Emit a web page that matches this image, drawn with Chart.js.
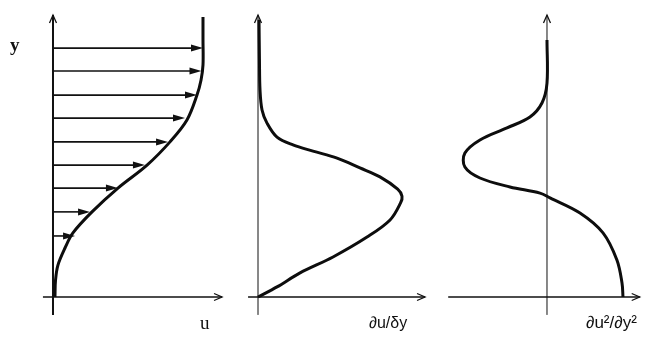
<!DOCTYPE html>
<html>
<head>
<meta charset="utf-8">
<script src="https://cdn.jsdelivr.net/npm/chart.js@4/dist/chart.umd.min.js"></script>
<style>
    html, body { margin: 0; padding: 0; background: #fff; }
    #wrap { position: relative; width: 648px; height: 337px; overflow: hidden; }
    #profileChart { position: absolute; left: 0; top: 0; }
    .lbl { position: absolute; color: #111; white-space: nowrap; }
    .serif { font-family: 'Liberation Serif', 'DejaVu Serif', serif; }
    .sans { font-family: 'Liberation Sans', 'DejaVu Sans', sans-serif; }
</style>
</head>
<body>
<div id="wrap">
    <canvas id="profileChart" width="648" height="337"></canvas>
    <span class="lbl serif" style="left:10px; top:34px; font-size:19px; font-weight:bold;">y</span>
    <span class="lbl serif" style="left:200px; top:312px; font-size:19px;">u</span>
    <span class="lbl sans" style="left:369px; top:314px; font-size:16px;">∂u/δy</span>
    <span class="lbl sans" style="left:586px; top:313px; font-size:17px;">∂u²/∂y²</span>
</div>
<script>
// wall-normal coordinate (0 = wall, 1 = top of the sketch)
const etaU = [0, 0.061, 0.114, 0.175, 0.229, 0.304, 0.389, 0.471, 0.554, 0.632, 0.721, 0.775, 0.829, 0.92, 1.0];
const uProfile = [0.013, 0.017, 0.033, 0.08, 0.133, 0.26, 0.433, 0.627, 0.78, 0.893, 0.96, 0.987, 1.0, 1.0, 1.0];

const etaD = [0, 0.036, 0.086, 0.143, 0.214, 0.275, 0.336, 0.36, 0.385, 0.429, 0.461, 0.496, 0.521, 0.543, 0.571, 0.621, 0.668, 0.739, 0.85, 0.99];
const dudy = [0, 0.132, 0.292, 0.521, 0.757, 0.917, 0.99, 1.0, 0.97, 0.847, 0.708, 0.549, 0.382, 0.243, 0.132, 0.0625, 0.028, 0.014, 0.01, 0.007];

const etaS = [0, 0.05, 0.132, 0.229, 0.30, 0.354, 0.371, 0.393, 0.425, 0.464, 0.514, 0.561, 0.604, 0.643, 0.693, 0.764, 0.918];
const d2udy2 = [1.0, 0.987, 0.92, 0.737, 0.434, 0.04, -0.092, -0.487, -0.882, -1.08, -1.08, -0.882, -0.526, -0.224, -0.066, 0, 0];

// velocity vectors drawn inside the u profile
const arrowEta = [0.218, 0.304, 0.389, 0.471, 0.554, 0.639, 0.721, 0.807, 0.889];
const arrowU = [0.147, 0.247, 0.433, 0.613, 0.767, 0.88, 0.96, 0.99, 1.0];

function toPoints(xs, ys) {
    return xs.map(function(x, i) { return { x: x, y: ys[i] }; });
}

// axes of the three panels, in each panel's own units
const panels = [
    { axis: 'xu', left: -0.067, right: 1.127, bottom: -0.064, top: 1.007, width: 2 },
    { axis: 'xd', left: -0.069, right: 1.16, bottom: -0.064, top: 1.007, width: 1 },
    { axis: 'xs', left: -1.30, right: 1.22, bottom: -0.064, top: 1.007, width: 1 }
];

function chevron(ctx, x, y, dx, dy) {
    // open arrowhead pointing along (dx, dy)
    const len = 8, half = 3.5;
    const px = -dy, py = dx;
    ctx.beginPath();
    ctx.moveTo(x - dx * len + px * half, y - dy * len + py * half);
    ctx.lineTo(x, y);
    ctx.lineTo(x - dx * len - px * half, y - dy * len - py * half);
    ctx.stroke();
}

const sketchAxes = {
    id: 'sketchAxes',
    beforeDatasetsDraw: function(chart) {
        const ctx = chart.ctx;
        const yScale = chart.scales.y;
        ctx.save();
        ctx.strokeStyle = '#111';
        ctx.lineCap = 'butt';
        panels.forEach(function(p) {
            const xs = chart.scales[p.axis];
            const x0 = xs.getPixelForValue(0);
            const y0 = yScale.getPixelForValue(0);
            // vertical axis
            ctx.lineWidth = p.width;
            ctx.beginPath();
            ctx.moveTo(x0, yScale.getPixelForValue(p.bottom));
            ctx.lineTo(x0, yScale.getPixelForValue(p.top));
            ctx.stroke();
            ctx.lineWidth = 1.3;
            chevron(ctx, x0, yScale.getPixelForValue(p.top), 0, -1);
            // horizontal axis
            ctx.lineWidth = 1.5;
            const xr = xs.getPixelForValue(p.right);
            ctx.beginPath();
            ctx.moveTo(xs.getPixelForValue(p.left), y0);
            ctx.lineTo(xr, y0);
            ctx.stroke();
            ctx.lineWidth = 1.3;
            chevron(ctx, xr, y0, 1, 0);
        });

        // velocity arrows
        const xu = chart.scales.xu;
        ctx.fillStyle = '#111';
        arrowEta.forEach(function(eta, i) {
            const y = yScale.getPixelForValue(eta);
            const xa = xu.getPixelForValue(0);
            const xb = xu.getPixelForValue(arrowU[i]);
            ctx.lineWidth = 1.6;
            ctx.beginPath();
            ctx.moveTo(xa, y);
            ctx.lineTo(xb - 8, y);
            ctx.stroke();
            ctx.beginPath();
            ctx.moveTo(xb, y);
            ctx.lineTo(xb - 12, y - 3.5);
            ctx.lineTo(xb - 12, y + 3.5);
            ctx.closePath();
            ctx.fill();
        });
        ctx.restore();
    }
};

const lineStyle = {
    borderColor: '#0d0d0d',
    borderWidth: 3,
    pointRadius: 0,
    showLine: true,
    fill: false,
    tension: 0.35
};

new Chart(document.getElementById('profileChart'), {
    type: 'scatter',
    data: {
        datasets: [
            Object.assign({ label: 'u', data: toPoints(uProfile, etaU), xAxisID: 'xu' }, lineStyle),
            Object.assign({ label: 'du/dy', data: toPoints(dudy, etaD), xAxisID: 'xd' }, lineStyle),
            Object.assign({ label: 'd2u/dy2', data: toPoints(d2udy2, etaS), xAxisID: 'xs' }, lineStyle)
        ]
    },
    options: {
        responsive: false,
        animation: false,
        layout: { padding: 0, autoPadding: false },
        plugins: {
            legend: { display: false },
            tooltip: { enabled: false }
        },
        scales: {
            xu: { type: 'linear', position: 'bottom', display: false, min: -0.3533, max: 3.9667 },
            xd: { type: 'linear', position: 'bottom', display: false, min: -1.7917, max: 2.7083 },
            xs: { type: 'linear', position: 'bottom', display: false, min: -7.197, max: 1.329 },
            y: { type: 'linear', display: false, min: -0.142857, max: 1.060714 }
        }
    },
    plugins: [sketchAxes]
});
</script>
</body>
</html>
